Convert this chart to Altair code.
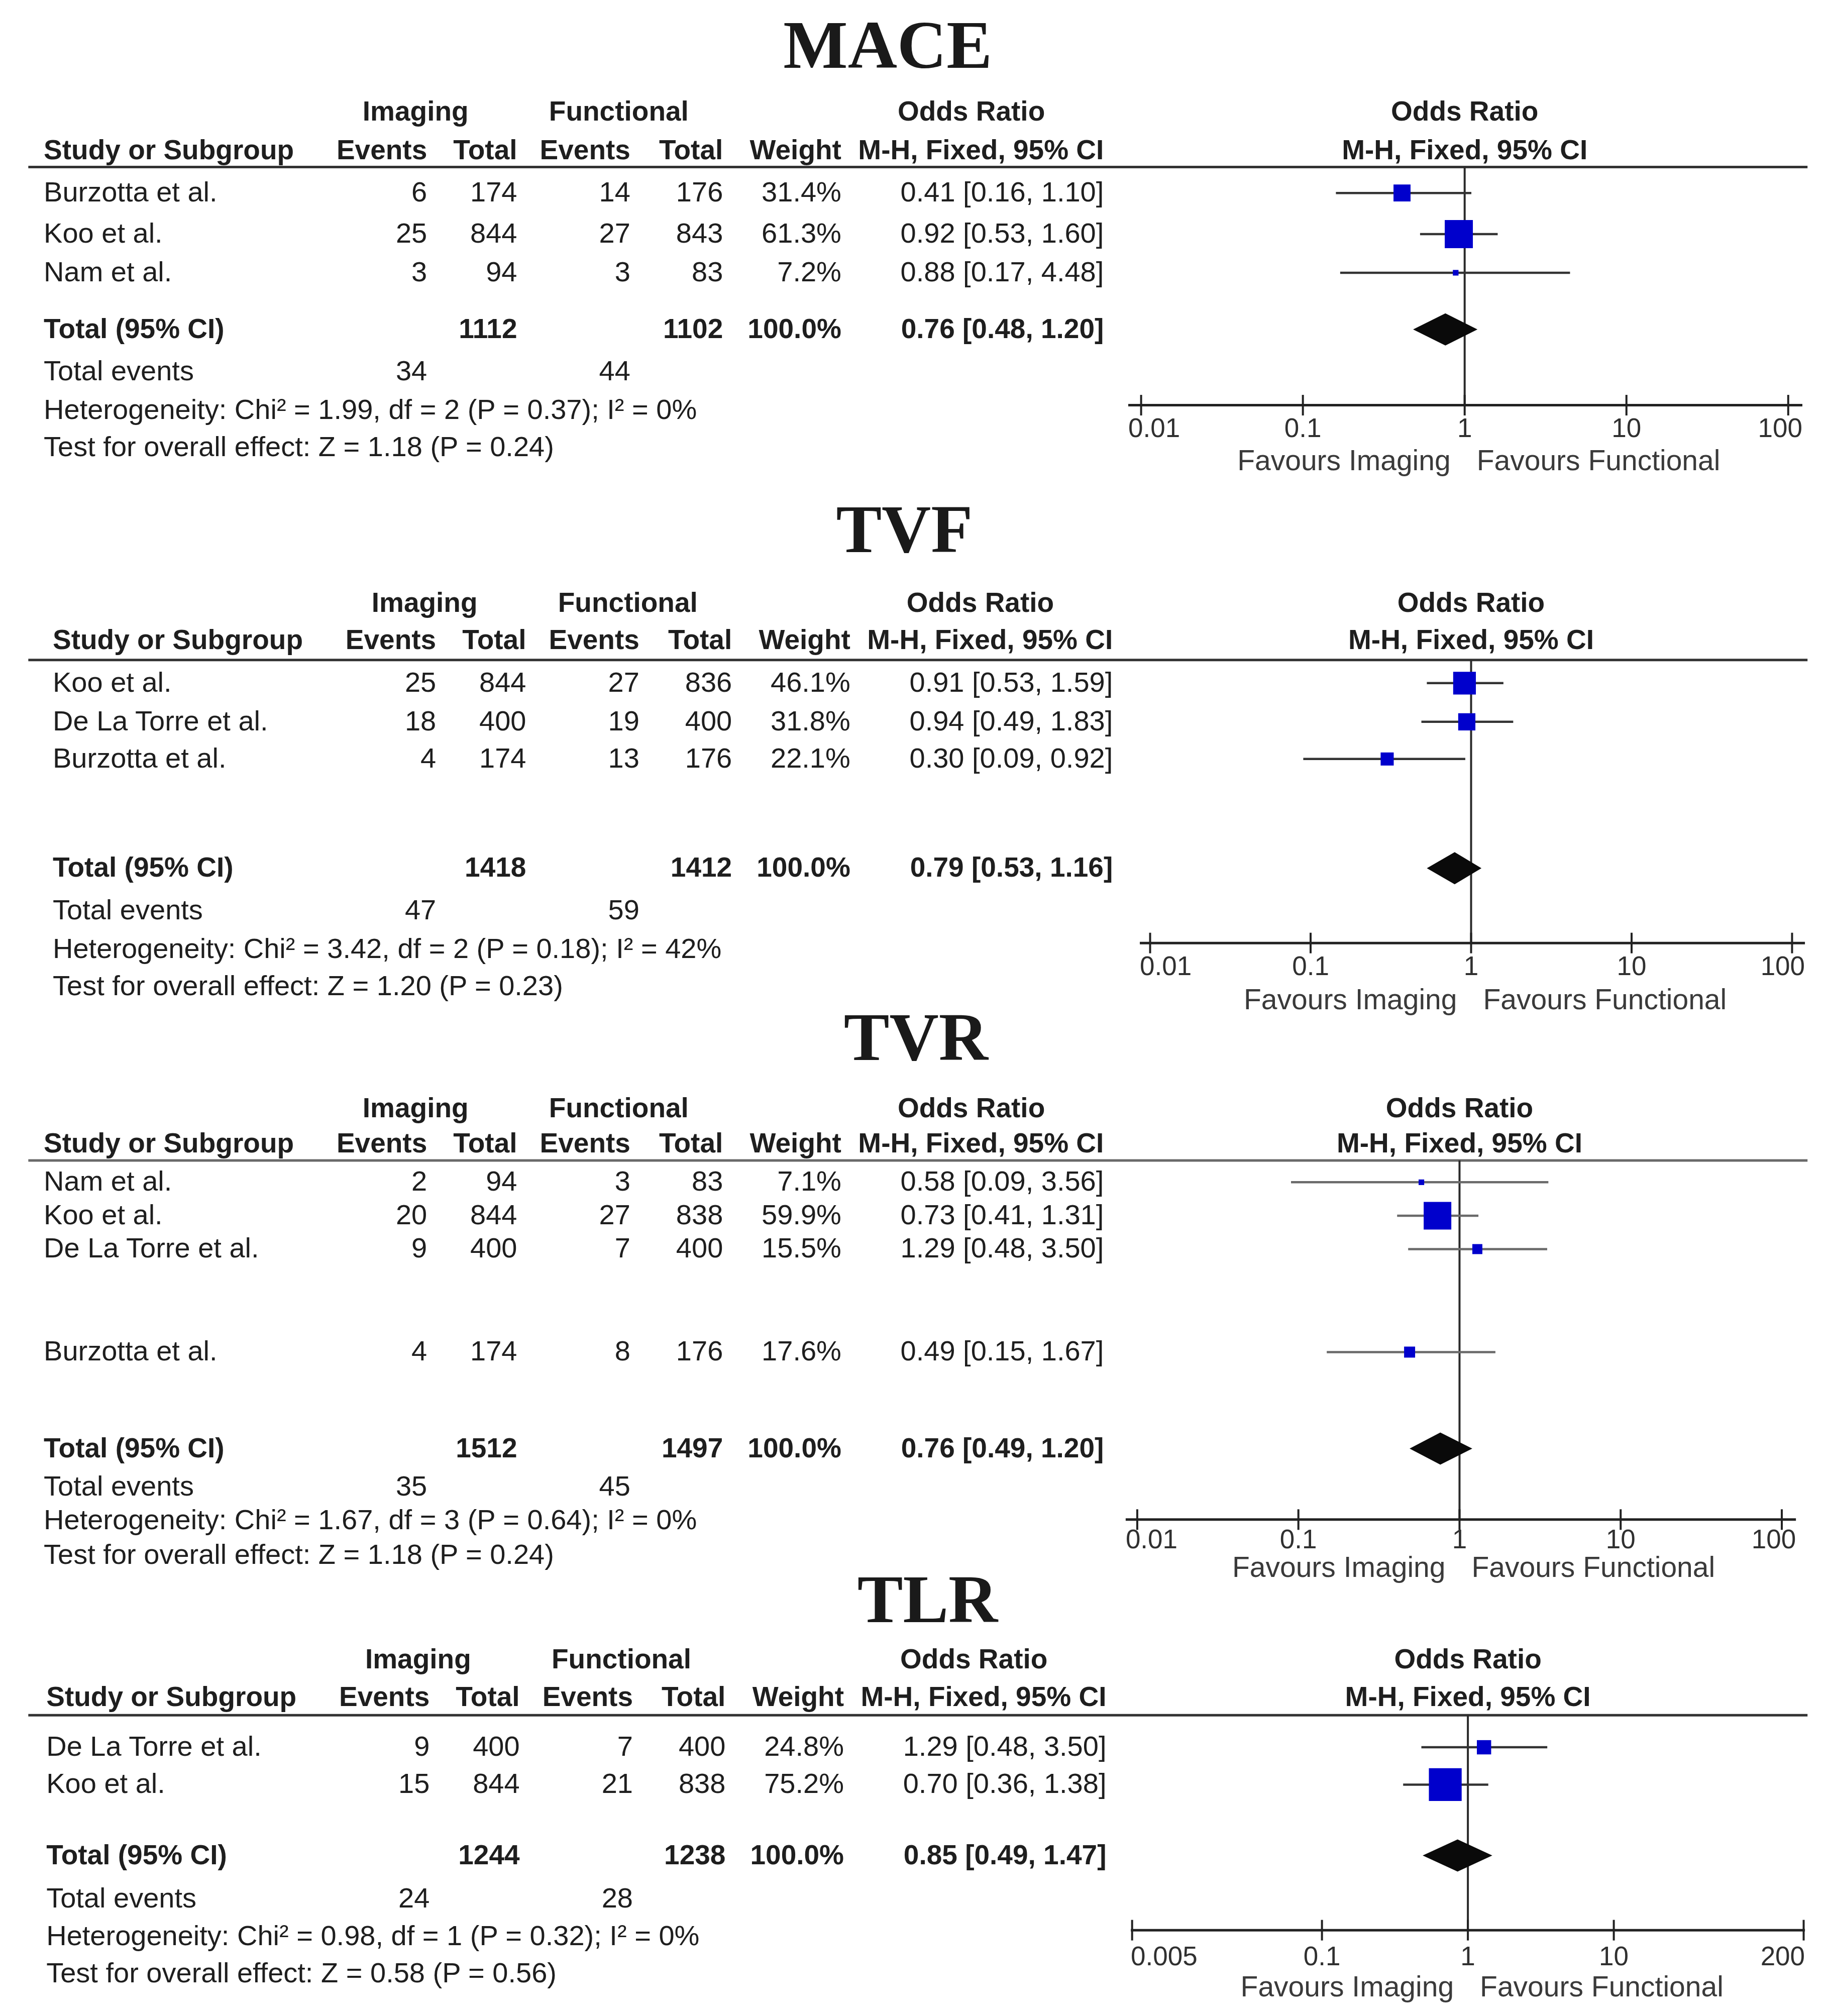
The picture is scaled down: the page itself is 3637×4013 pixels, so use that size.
import altair as alt
import pandas as pd

# ---------------- data ----------------
MACE_study = ["Burzotta et al.", "Koo et al.", "Nam et al."]
MACE_img_ev = [6, 25, 3]
MACE_img_n = [174, 844, 94]
MACE_fun_ev = [14, 27, 3]
MACE_fun_n = [176, 843, 83]
MACE_weight = [31.4, 61.3, 7.2]
MACE_or = [0.41, 0.92, 0.88]
MACE_lo = [0.16, 0.53, 0.17]
MACE_hi = [1.10, 1.60, 4.48]
MACE_pooled = [0.76, 0.48, 1.20]
MACE_totals = [1112, 1102]
MACE_events = [34, 44]
MACE_het = "Heterogeneity: Chi² = 1.99, df = 2 (P = 0.37); I² = 0%"
MACE_test = "Test for overall effect: Z = 1.18 (P = 0.24)"
MACE_ticks = [0.01, 0.1, 1, 10, 100]
MACE_tick_labels = ["0.01", "0.1", "1", "10", "100"]

TVF_study = ["Koo et al.", "De La Torre et al.", "Burzotta et al."]
TVF_img_ev = [25, 18, 4]
TVF_img_n = [844, 400, 174]
TVF_fun_ev = [27, 19, 13]
TVF_fun_n = [836, 400, 176]
TVF_weight = [46.1, 31.8, 22.1]
TVF_or = [0.91, 0.94, 0.30]
TVF_lo = [0.53, 0.49, 0.09]
TVF_hi = [1.59, 1.83, 0.92]
TVF_pooled = [0.79, 0.53, 1.16]
TVF_totals = [1418, 1412]
TVF_events = [47, 59]
TVF_het = "Heterogeneity: Chi² = 3.42, df = 2 (P = 0.18); I² = 42%"
TVF_test = "Test for overall effect: Z = 1.20 (P = 0.23)"
TVF_ticks = [0.01, 0.1, 1, 10, 100]
TVF_tick_labels = ["0.01", "0.1", "1", "10", "100"]

TVR_study = ["Nam et al.", "Koo et al.", "De La Torre et al.", "Burzotta et al."]
TVR_img_ev = [2, 20, 9, 4]
TVR_img_n = [94, 844, 400, 174]
TVR_fun_ev = [3, 27, 7, 8]
TVR_fun_n = [83, 838, 400, 176]
TVR_weight = [7.1, 59.9, 15.5, 17.6]
TVR_or = [0.58, 0.73, 1.29, 0.49]
TVR_lo = [0.09, 0.41, 0.48, 0.15]
TVR_hi = [3.56, 1.31, 3.50, 1.67]
TVR_pooled = [0.76, 0.49, 1.20]
TVR_totals = [1512, 1497]
TVR_events = [35, 45]
TVR_het = "Heterogeneity: Chi² = 1.67, df = 3 (P = 0.64); I² = 0%"
TVR_test = "Test for overall effect: Z = 1.18 (P = 0.24)"
TVR_ticks = [0.01, 0.1, 1, 10, 100]
TVR_tick_labels = ["0.01", "0.1", "1", "10", "100"]

TLR_study = ["De La Torre et al.", "Koo et al."]
TLR_img_ev = [9, 15]
TLR_img_n = [400, 844]
TLR_fun_ev = [7, 21]
TLR_fun_n = [400, 838]
TLR_weight = [24.8, 75.2]
TLR_or = [1.29, 0.70]
TLR_lo = [0.48, 0.36]
TLR_hi = [3.50, 1.38]
TLR_pooled = [0.85, 0.49, 1.47]
TLR_totals = [1244, 1238]
TLR_events = [24, 28]
TLR_het = "Heterogeneity: Chi² = 0.98, df = 1 (P = 0.32); I² = 0%"
TLR_test = "Test for overall effect: Z = 0.58 (P = 0.56)"
TLR_ticks = [0.005, 0.1, 1, 10, 200]
TLR_tick_labels = ["0.005", "0.1", "1", "10", "200"]

DATA = {
    "MACE": dict(study=MACE_study, img_ev=MACE_img_ev, img_n=MACE_img_n, fun_ev=MACE_fun_ev,
                 fun_n=MACE_fun_n, weight=MACE_weight, or_=MACE_or, lo=MACE_lo, hi=MACE_hi,
                 pooled=MACE_pooled, totals=MACE_totals, events=MACE_events, het=MACE_het,
                 test=MACE_test, ticks=MACE_ticks, tick_labels=MACE_tick_labels),
    "TVF": dict(study=TVF_study, img_ev=TVF_img_ev, img_n=TVF_img_n, fun_ev=TVF_fun_ev,
                fun_n=TVF_fun_n, weight=TVF_weight, or_=TVF_or, lo=TVF_lo, hi=TVF_hi,
                pooled=TVF_pooled, totals=TVF_totals, events=TVF_events, het=TVF_het,
                test=TVF_test, ticks=TVF_ticks, tick_labels=TVF_tick_labels),
    "TVR": dict(study=TVR_study, img_ev=TVR_img_ev, img_n=TVR_img_n, fun_ev=TVR_fun_ev,
                fun_n=TVR_fun_n, weight=TVR_weight, or_=TVR_or, lo=TVR_lo, hi=TVR_hi,
                pooled=TVR_pooled, totals=TVR_totals, events=TVR_events, het=TVR_het,
                test=TVR_test, ticks=TVR_ticks, tick_labels=TVR_tick_labels),
    "TLR": dict(study=TLR_study, img_ev=TLR_img_ev, img_n=TLR_img_n, fun_ev=TLR_fun_ev,
                fun_n=TLR_fun_n, weight=TLR_weight, or_=TLR_or, lo=TLR_lo, hi=TLR_hi,
                pooled=TLR_pooled, totals=TLR_totals, events=TLR_events, het=TLR_het,
                test=TLR_test, ticks=TLR_ticks, tick_labels=TLR_tick_labels),
}

# ---------------- layout (reference units; S page px per unit) ----------------
S = 2.561
LEFT_V = 8 / S
PAGE_W = 3621
TEXT_FONT = "Liberation Sans"
TITLE_FONT = "Liberation Serif"
FS_BOLD = 55
FS_REG = 56
INK = "#1e1e1e"

COLS = dict(study=34, img_ev=332, img_n=402, fun_ev=490, fun_n=562, weight=654, ci=858,
            img_head=323, fun_head=481, or_head=755, rule0=22, rule1=1405)

LAYOUT = {
    "MACE": dict(top=LEFT_V, bottom=385, row0=150, pitch=31, dx=0, title_x=690,
                 title=-3.65, h1=-2.03, h2=-1.06, rule=-0.65, studies=[0, 1.03, 2.0],
                 total=3.42, events=4.48, het=5.45, test=6.39, axis=5.32, ticklab=5.92, fav=6.74,
                 rng=(887, 1390), axis_ext=(877, 1401), ci_color="#333333", rule_color="#333333"),
    "TVF": dict(top=385, bottom=792, row0=531, pitch=29.5, dx=7, title_x=703,
                title=-4.0, h1=-2.1, h2=-1.12, rule=-0.61, studies=[0, 1.02, 2.0],
                total=4.88, events=6.0, het=7.02, test=8.0, axis=6.85, ticklab=7.49, fav=8.37,
                rng=(894, 1393), axis_ext=(886, 1403), ci_color="#333333", rule_color="#333333"),
    "TVR": dict(top=792, bottom=1228, row0=919, pitch=26.5, dx=0, title_x=712,
                title=-4.19, h1=-2.15, h2=-1.13, rule=-0.64, studies=[0, 0.98, 1.96, 4.98],
                total=7.81, events=8.94, het=9.92, test=10.94, axis=9.89, ticklab=10.5, fav=11.32,
                rng=(884, 1385), axis_ext=(875, 1396), ci_color="#6a6a6a", rule_color="#6a6a6a"),
    "TLR": dict(top=1228, bottom=1566, row0=1358, pitch=29, dx=2, title_x=721,
                title=-3.9, h1=-2.34, h2=-1.34, rule=-0.86, studies=[0, 1.0],
                total=2.9, events=4.07, het=5.07, test=6.07, axis=4.9, ticklab=5.62, fav=6.45,
                rng=(880, 1402), axis_ext=(879, 1403), ci_color="#333333", rule_color="#333333"),
}


def fmt_ci(o, l, h):
    return f"{o:.2f} [{l:.2f}, {h:.2f}]"


def build_panel(name):
    d = DATA[name]
    L = LAYOUT[name]
    p = L["pitch"]
    H = round((L["bottom"] - L["top"]) * S)
    ydom = [(L["top"] - L["row0"]) / p, (L["bottom"] - L["row0"]) / p]
    yscale = alt.Scale(domain=ydom, reverse=True, nice=False, zero=False)
    xt = alt.Scale(domain=[LEFT_V, LEFT_V + PAGE_W / S], nice=False, zero=False)
    r0, r1 = L["rng"]
    xf = alt.Scale(type="log", domain=[d["ticks"][0], d["ticks"][-1]],
                   range=[(r0 - LEFT_V) * S, (r1 - LEFT_V) * S], nice=False)
    c = {k: v + L["dx"] for k, v in COLS.items()}

    def YQ(f="row"):
        return alt.Y(f"{f}:Q", scale=yscale, axis=None)

    def XT(f="col"):
        return alt.X(f"{f}:Q", scale=xt, axis=None)

    def XF(f="x"):
        return alt.X(f"{f}:Q", scale=xf, axis=None)

    # ---- table text ----
    recs = []

    def add(col, row, text, align, bold=False):
        recs.append(dict(col=col, row=row, text=str(text), align=align, bold=bold))

    add(c["img_head"], L["h1"], "Imaging", "center", True)
    add(c["fun_head"], L["h1"], "Functional", "center", True)
    add(c["or_head"], L["h1"], "Odds Ratio", "center", True)
    add(c["study"], L["h2"], "Study or Subgroup", "left", True)
    add(c["img_ev"], L["h2"], "Events", "right", True)
    add(c["img_n"], L["h2"], "Total", "right", True)
    add(c["fun_ev"], L["h2"], "Events", "right", True)
    add(c["fun_n"], L["h2"], "Total", "right", True)
    add(c["weight"], L["h2"], "Weight", "right", True)
    add(c["ci"], L["h2"], "M-H, Fixed, 95% CI", "right", True)
    for i, r in enumerate(L["studies"]):
        add(c["study"], r, d["study"][i], "left")
        add(c["img_ev"], r, d["img_ev"][i], "right")
        add(c["img_n"], r, d["img_n"][i], "right")
        add(c["fun_ev"], r, d["fun_ev"][i], "right")
        add(c["fun_n"], r, d["fun_n"][i], "right")
        add(c["weight"], r, f"{d['weight'][i]:.1f}%", "right")
        add(c["ci"], r, fmt_ci(d["or_"][i], d["lo"][i], d["hi"][i]), "right")
    add(c["study"], L["total"], "Total (95% CI)", "left", True)
    add(c["img_n"], L["total"], d["totals"][0], "right", True)
    add(c["fun_n"], L["total"], d["totals"][1], "right", True)
    add(c["weight"], L["total"], "100.0%", "right", True)
    add(c["ci"], L["total"], fmt_ci(*d["pooled"]), "right", True)
    add(c["study"], L["events"], "Total events", "left")
    add(c["img_ev"], L["events"], d["events"][0], "right")
    add(c["fun_ev"], L["events"], d["events"][1], "right")
    add(c["study"], L["het"], d["het"], "left")
    add(c["study"], L["test"], d["test"], "left")
    tdf = pd.DataFrame(recs)

    layers = []
    for (align, bold), sub in tdf.groupby(["align", "bold"]):
        layers.append(
            alt.Chart(sub).mark_text(align=align, baseline="middle", font=TEXT_FONT,
                                     fontSize=FS_BOLD if bold else FS_REG,
                                     fontWeight="bold" if bold else "normal", color=INK)
            .encode(x=XT(), y=YQ(), text="text:N")
        )

    # title
    layers.append(
        alt.Chart(pd.DataFrame([dict(col=L["title_x"], row=L["title"], text=name)]))
        .mark_text(align="center", baseline="middle", font=TITLE_FONT, fontSize=136,
                   fontWeight="bold", color="#1a1a1a")
        .encode(x=XT(), y=YQ(), text="text:N")
    )

    # header rule
    layers.append(
        alt.Chart(pd.DataFrame([dict(col=COLS["rule0"], col2=COLS["rule1"], row=L["rule"])]))
        .mark_rule(color=L["rule_color"], strokeWidth=5)
        .encode(x=XT(), x2="col2:Q", y=YQ())
    )

    # axis line
    a0, a1 = L["axis_ext"]
    layers.append(
        alt.Chart(pd.DataFrame([dict(col=a0, col2=a1, row=L["axis"])]))
        .mark_rule(color="#222222", strokeWidth=5)
        .encode(x=XT(), x2="col2:Q", y=YQ())
    )

    # forest header
    fh = pd.DataFrame([dict(x=1, row=L["h1"], text="Odds Ratio"),
                       dict(x=1, row=L["h2"], text="M-H, Fixed, 95% CI")])
    layers.append(
        alt.Chart(fh).mark_text(align="center", baseline="middle", font=TEXT_FONT, fontSize=FS_BOLD,
                                fontWeight="bold", color=INK)
        .encode(x=XF(), y=YQ(), text="text:N")
    )

    # vertical line of no effect
    layers.append(
        alt.Chart(pd.DataFrame([dict(x=1, row=L["rule"], row2=L["axis"])]))
        .mark_rule(color="#2a2a2a", strokeWidth=4)
        .encode(x=XF(), y=YQ(), y2="row2:Q")
    )

    # CI lines and squares
    sdf = pd.DataFrame(dict(x=d["or_"], lo=d["lo"], hi=d["hi"], w=d["weight"], row=L["studies"]))
    layers.append(
        alt.Chart(sdf).mark_rule(color=L["ci_color"], strokeWidth=4.5)
        .encode(x=XF("lo"), x2="hi:Q", y=YQ())
    )
    layers.append(
        alt.Chart(sdf).mark_square(color="#0000CC", opacity=1)
        .encode(x=XF(), y=YQ(),
                size=alt.Size("w:Q", scale=alt.Scale(type="pow", exponent=1.5, domain=[0, 100],
                                                     range=[0, 6530]), legend=None))
    )

    # pooled diamond
    hh = 12.5 / p
    po, pl, ph = d["pooled"]
    ddf = pd.DataFrame(dict(x=[pl, po, ph],
                            row=[L["total"], L["total"] - hh, L["total"]],
                            row2=[L["total"], L["total"] + hh, L["total"]]))
    layers.append(
        alt.Chart(ddf).mark_area(color="#0a0a0a", orient="vertical", opacity=1)
        .encode(x=XF(), y=YQ(), y2="row2:Q")
    )

    # axis ticks (crossing the line)
    tk = 8 / p
    tdf2 = pd.DataFrame(dict(x=d["ticks"], lab=d["tick_labels"]))
    tdf2["row"] = L["axis"] - tk
    tdf2["row2"] = L["axis"] + tk
    tdf2["lrow"] = L["ticklab"]
    layers.append(
        alt.Chart(tdf2).mark_rule(color="#222222", strokeWidth=4)
        .encode(x=XF(), y=YQ(), y2="row2:Q")
    )
    # tick labels: ends aligned with the axis line ends
    first = tdf2.iloc[[0]]
    mid = tdf2.iloc[1:-1]
    last = tdf2.iloc[[-1]]
    lab_kw = dict(baseline="middle", font=TEXT_FONT, fontSize=53, color="#303030")
    layers.append(alt.Chart(first).mark_text(align="left", dx=(a0 - r0) * S, **lab_kw)
                  .encode(x=XF(), y=YQ("lrow"), text="lab:N"))
    layers.append(alt.Chart(mid).mark_text(align="center", **lab_kw)
                  .encode(x=XF(), y=YQ("lrow"), text="lab:N"))
    layers.append(alt.Chart(last).mark_text(align="right", dx=(a1 - r1) * S, **lab_kw)
                  .encode(x=XF(), y=YQ("lrow"), text="lab:N"))

    # favours labels
    fav_kw = dict(baseline="middle", font=TEXT_FONT, fontSize=57, color="#3a3a3a")
    fdf = pd.DataFrame([dict(x=1, row=L["fav"])])
    layers.append(alt.Chart(fdf).mark_text(align="right", dx=-28, text="Favours Imaging", **fav_kw)
                  .encode(x=XF(), y=YQ()))
    layers.append(alt.Chart(fdf).mark_text(align="left", dx=24, text="Favours Functional", **fav_kw)
                  .encode(x=XF(), y=YQ()))

    return alt.layer(*layers).resolve_scale(x="independent").properties(width=PAGE_W, height=H)


charts = [build_panel(n) for n in ["MACE", "TVF", "TVR", "TLR"]]
chart = (
    alt.vconcat(*charts, spacing=0, bounds="flush")
    .properties(padding=0, background="white")
    .configure_view(stroke=None)
)

chart.save("out.html", embed_options={"renderer": "svg", "actions": False})
